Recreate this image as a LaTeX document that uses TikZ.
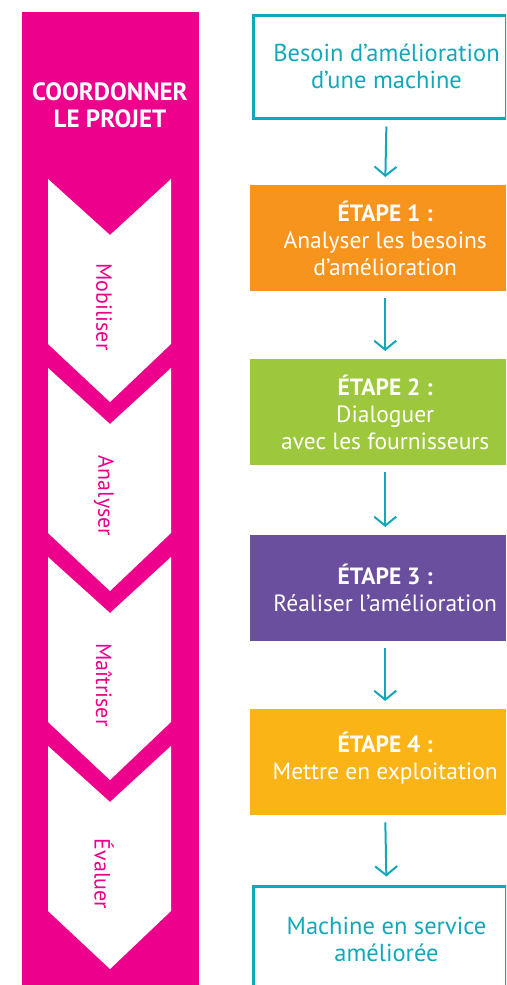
\documentclass[tikz,border=0pt]{standalone}
\usepackage{fontspec}
\setmainfont{PT Sans}
\usetikzlibrary{arrows.meta}

\definecolor{projpink}{HTML}{EC008C}
\definecolor{flowteal}{HTML}{12A8B9}
\definecolor{etape1}{HTML}{F7941E}
\definecolor{etape2}{HTML}{9DC73C}
\definecolor{etape3}{HTML}{6B4F9F}
\definecolor{etape4}{HTML}{FBB416}

\tikzset{
  stepbox/.style={minimum width=256pt, minimum height=106pt, inner sep=0pt, anchor=north west},
  endbox/.style={stepbox, draw=flowteal, line width=3pt, minimum width=253pt, minimum height=103pt},
  steptext/.style={text=white, align=center, xshift=7pt, font=\fontsize{23.5}{27}\selectfont},
  endtext/.style={steptext, text=flowteal, font=\fontsize{24.5}{27}\selectfont},
  flow/.style={draw=flowteal, line width=2pt, shorten <=7pt, shorten >=8pt,
    -{Straight Barb[length=9pt, width=22pt, line width=2pt]}},
  phase/.style={text=projpink, rotate=-90, font=\fontsize{22}{24}\selectfont}
}

\begin{document}
\begin{tikzpicture}[x=1pt, y=-1pt]
        \useasboundingbox (0,0) rectangle (506,985);
        \clip (0,0) rectangle (506,985);

        % coordinate column
        \fill[projpink] (22,12) rectangle (199,990);
        \node[text=white, align=center, font=\fontsize{25}{27}\selectfont\bfseries] (title) at (110,105) {COORDONNER\\LE PROJET};

        \foreach \y/\lab [count=\i] in {179/Mobiliser, 368/Analyser, 557/Maîtriser, 746/Évaluer} {
            \fill[white] (48,\y) -- (110,\y+56) -- (171,\y) -- (171,\y+165) -- (110,\y+223) -- (48,\y+165) -- cycle;
            \node[phase] (ph\i) at (104,\y+128) {\lab};
        }

        % steps
        \node[endbox] (b0) at (251.5,13.5) {};
        \node[endtext] at (b0.center) {Besoin d’amélioration\\d’une machine};

        \node[stepbox, fill=etape1] (e1) at (250,185) {};
        \node[steptext] at (e1.center) {\textbf{ÉTAPE 1~:}\\Analyser les besoins\\d’amélioration};

        \node[stepbox, fill=etape2] (e2) at (250,359) {};
        \node[steptext] at (e2.center) {\textbf{ÉTAPE 2~:}\\Dialoguer\\avec les fournisseurs};

        \node[stepbox, fill=etape3] (e3) at (250,535) {};
        \node[steptext] at (e3.center) {\textbf{ÉTAPE 3~:}\\Réaliser l’amélioration};

        \node[stepbox, fill=etape4] (e4) at (250,709) {};
        \node[steptext, yshift=4pt] at (e4.center) {\textbf{ÉTAPE 4~:}\\Mettre en exploitation};

        \node[endbox] (b5) at (251.5,884.5) {};
        \node[endtext, yshift=-2pt] at (b5.center) {Machine en service\\améliorée};

        \draw[flow] ([xshift=7pt]b0.south) -- ([xshift=7pt]e1.north);
        \draw[flow] ([xshift=7pt]e1.south) -- ([xshift=7pt]e2.north);
        \draw[flow] ([xshift=7pt]e2.south) -- ([xshift=7pt]e3.north);
        \draw[flow] ([xshift=7pt]e3.south) -- ([xshift=7pt]e4.north);
        \draw[flow] ([xshift=7pt]e4.south) -- ([xshift=7pt]b5.north);
\end{tikzpicture}
\end{document}
